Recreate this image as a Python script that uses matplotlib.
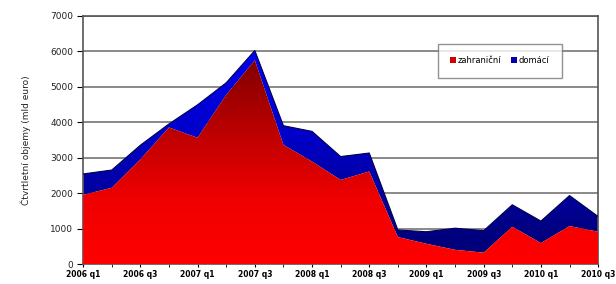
import numpy as np
import matplotlib
matplotlib.use("Agg")
import matplotlib.pyplot as plt
from matplotlib.colors import LinearSegmentedColormap
from matplotlib.patches import Polygon, Patch

quarters = ["2006 q1", "2006 q2", "2006 q3", "2006 q4",
            "2007 q1", "2007 q2", "2007 q3", "2007 q4",
            "2008 q1", "2008 q2", "2008 q3", "2008 q4",
            "2009 q1", "2009 q2", "2009 q3", "2009 q4",
            "2010 q1", "2010 q2", "2010 q3"]
zahranicni = [1950, 2150, 2950, 3850, 3560, 4770, 5750, 3360, 2890, 2370, 2610,
              760, 570, 400, 320, 1050, 590, 1070, 910]
celkem = [2540, 2650, 3350, 3950, 4490, 5110, 6020, 3900, 3740, 3030, 3130,
          960, 910, 1010, 940, 1670, 1210, 1930, 1340]
domaci = [t - z for t, z in zip(celkem, zahranicni)]
yticks = [0, 1000, 2000, 3000, 4000, 5000, 6000, 7000]
xtick_labels = quarters[::2]

fig = plt.figure(figsize=(6.16, 2.84), dpi=100)
ax = fig.add_axes([0.135, 0.0704, 0.836, 0.874])
x = np.arange(len(quarters))
z = np.array(zahranicni, dtype=float)
d = np.array(domaci, dtype=float)
top = z + d

for v in yticks[1:]:
    ax.axhline(v, color="#808080", lw=1.3, zorder=1)

grad = np.linspace(0, 1, 256).reshape(-1, 1)

# blue area (domácí) stacked on top, vertical gradient
bcmap = LinearSegmentedColormap.from_list("b", [(0.0, "#000070"), (0.2, "#000088"),
                                                (0.6, "#0000c8"), (1.0, "#0000f0")])
imb = ax.imshow(grad, cmap=bcmap, aspect="auto", origin="lower",
                extent=[x[0], x[-1], 0, 6000], zorder=2)
polyb = Polygon(np.column_stack([np.r_[x, x[::-1]], np.r_[top, z[::-1]]]),
                closed=True, transform=ax.transData, facecolor="none", edgecolor="none")
ax.add_patch(polyb)
imb.set_clip_path(polyb)
ax.plot(x, top, color="#000050", lw=0.8, zorder=4)

# red area (zahraniční) with vertical gradient
cmap = LinearSegmentedColormap.from_list("r", [(0.0, "#ff0000"), (0.3, "#f00000"),
                                               (0.6, "#c00000"), (1.0, "#7a0000")])
im = ax.imshow(grad, cmap=cmap, aspect="auto", origin="lower",
               extent=[x[0], x[-1], 0, 6000], zorder=3)
poly = Polygon(np.column_stack([np.r_[x, x[::-1]], np.r_[z, np.zeros_like(z)]]),
               closed=True, transform=ax.transData, facecolor="none", edgecolor="none")
ax.add_patch(poly)
im.set_clip_path(poly)

ax.set_xlim(x[0], x[-1])
ax.set_ylim(0, 7000)
ax.set_yticks(yticks)
ax.set_yticklabels([str(v) for v in yticks], fontsize=6.5, color="#222222")
ax.set_xticks(x[::2])
ax.set_xticks(x, minor=True)
ax.set_xticklabels(xtick_labels, fontsize=5.5, fontweight="bold")
ax.tick_params(axis="x", which="both", length=2, pad=2)
ax.tick_params(axis="y", length=4, direction="out", pad=3)
for s in ax.spines.values():
    s.set_color("#555555")
    s.set_linewidth(1.2)
ax.set_ylabel("Čtvrtletní objemy (mld euro)", fontsize=6.5, labelpad=14, color="#222222")

handles = [Patch(facecolor="#d00000", edgecolor="none"), Patch(facecolor="#0000b0", edgecolor="none")]
leg = ax.legend(handles, ["zahraniční", "domácí"], loc="upper left",
                bbox_to_anchor=(0.68, 0.905), ncol=2, fontsize=6, frameon=True,
                fancybox=False, edgecolor="#777777", handlelength=0.7, handleheight=0.7,
                handletextpad=0.2, columnspacing=1.2, borderpad=1.5)
leg.get_frame().set_linewidth(1.0)
leg.set_zorder(5)

fig.savefig("out.png", dpi=100)
